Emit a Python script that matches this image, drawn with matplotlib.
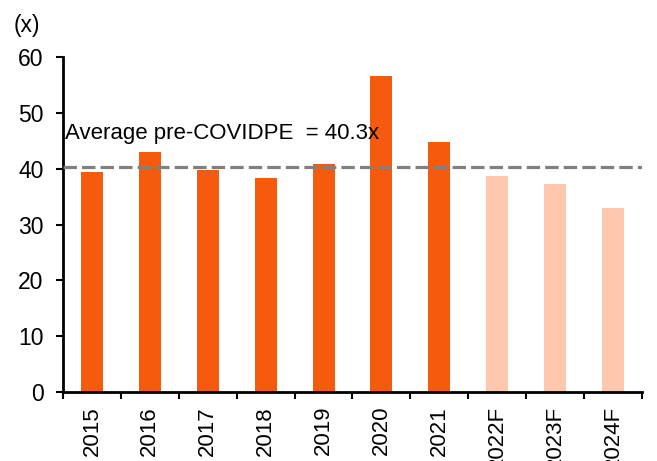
import numpy as np
import matplotlib
matplotlib.use("Agg")
import matplotlib.pyplot as plt

plt.rcParams['font.family'] = ['Liberation Sans', 'DejaVu Sans']

years = ['2015', '2016', '2017', '2018', '2019', '2020', '2021', '2022F', '2023F', '2024F']
pe = [39.5, 43.0, 39.8, 38.4, 40.9, 56.6, 44.8, 38.7, 37.3, 33.0]
forecast = [False, False, False, False, False, False, False, True, True, True]
avg_pre_covid = 40.3

dark = '#F55A0F'
light = '#FFC8AE'
colors = [light if f else dark for f in forecast]

fig = plt.figure(figsize=(6.57, 4.61), dpi=100)
ax = fig.add_axes([0.0959, 0.1497, 0.977 - 0.0959, 0.8757 - 0.1497])

x = np.arange(len(years))
ax.bar(x, pe, width=0.38, color=colors, zorder=2)
ax.axhline(avg_pre_covid, color='#808080', lw=2.3, dashes=(4.2, 1.6), zorder=3)
ax.text(-0.47, 45.4, 'Average pre-COVIDPE  = 40.3x', fontsize=16, ha='left', va='baseline')

ax.set_xlim(-0.5, len(years) - 0.5)
ax.set_ylim(0, 60)
ax.set_yticks(range(0, 61, 10))
ax.tick_params(axis='y', labelsize=16.5, length=5, width=1.5, pad=9)

# labels at bar centres, tick marks at category boundaries
ax.set_xticks(x)
ax.set_xticklabels(years, rotation=90, fontsize=16)
ax.tick_params(axis='x', which='major', length=0, pad=10)
ax.set_xticks(np.arange(-0.5, len(years)), minor=True)
ax.tick_params(axis='x', which='minor', length=5, width=1.5)

for s in ['top', 'right']:
    ax.spines[s].set_visible(False)
for s in ['left', 'bottom']:
    ax.spines[s].set_linewidth(2)

fig.text(0.021, 0.945, '(x)', fontsize=16.5, ha='left', va='center')

fig.savefig('out.png', dpi=100)
